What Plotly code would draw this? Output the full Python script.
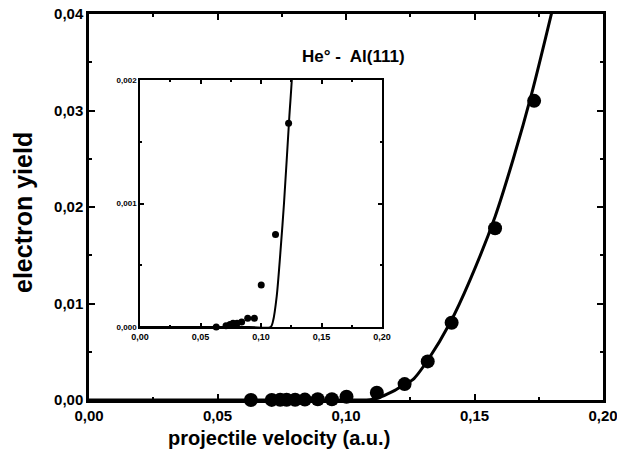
import plotly.graph_objects as go

# measured points (projectile velocity in a.u., electron yield)
data_v = [0.0630, 0.0711, 0.0744, 0.0769, 0.0802, 0.0840, 0.0890, 0.0945,
          0.1002, 0.1120, 0.1228, 0.1318, 0.1411, 0.1580, 0.1732]
data_y = [0.0, 0.00001, 0.00002, 0.00003, 0.00003, 0.00004, 0.00007, 0.00007,
          0.00034, 0.00075, 0.00165, 0.0040, 0.0080, 0.0178, 0.0310]

# fitted curve
curve_v = [0.0, 0.090, 0.108, 0.110, 0.113, 0.116, 0.119, 0.1234, 0.126,
           0.132, 0.1405, 0.1482, 0.158, 0.1651, 0.1723, 0.180]
curve_y = [0.0, 0.0, 0.0, 0.00005, 0.00025, 0.0006, 0.0010, 0.0017, 0.0021,
           0.0042, 0.0080, 0.0124, 0.0190, 0.0250, 0.0318, 0.0401]

main_xticks = [0.0, 0.05, 0.10, 0.15, 0.20]
main_yticks = [0.0, 0.01, 0.02, 0.03, 0.04]
inset_yticks = [0.0, 0.001, 0.002]

FONT = "Liberation Sans"
W, H = 617, 464

fig = go.Figure()
fig.add_trace(go.Scatter(x=curve_v, y=curve_y, mode="lines",
                         line=dict(color="black", width=3, shape="spline", smoothing=0.8),
                         xaxis="x", yaxis="y", showlegend=False))
fig.add_trace(go.Scatter(x=data_v, y=data_y, mode="markers",
                         marker=dict(color="black", size=14),
                         cliponaxis=False, xaxis="x", yaxis="y", showlegend=False))
fig.add_trace(go.Scatter(x=curve_v, y=curve_y, mode="lines",
                         line=dict(color="black", width=2, shape="spline", smoothing=0.8),
                         xaxis="x2", yaxis="y2", showlegend=False))
fig.add_trace(go.Scatter(x=data_v, y=data_y, mode="markers",
                         marker=dict(color="black", size=7),
                         cliponaxis=False, xaxis="x2", yaxis="y2", showlegend=False))

def px_x(p):
    return p / W

def px_y(p):
    return 1 - p / H

axis_common = dict(showline=True, mirror="allticks", linecolor="black", showgrid=False,
                   zeroline=False, ticks="inside", tickcolor="black", automargin=False,
                   ticklabeloverflow="allow")

fig.update_layout(
    width=W, height=H, margin=dict(l=0, r=0, t=0, b=0),
    paper_bgcolor="white", plot_bgcolor="white",
    separators=", ",
    font=dict(family=FONT, color="black"),
    xaxis=dict(axis_common, domain=[px_x(89), px_x(603)], range=[0, 0.2],
               tickvals=main_xticks, tickformat=".2f", linewidth=2.5, ticklen=6, tickwidth=2,
               tickfont=dict(size=15, family=FONT, weight="bold"),
               minor=dict(dtick=0.025, ticks="inside", ticklen=3, tickwidth=2, tickcolor="black"),
               anchor="y"),
    yaxis=dict(axis_common, domain=[px_y(400), px_y(14)], range=[0, 0.04],
               tickvals=main_yticks, tickformat=".2f", linewidth=2.5, ticklen=6, tickwidth=2,
               tickfont=dict(size=15, family=FONT, weight="bold"),
               minor=dict(dtick=0.005, ticks="inside", ticklen=3, tickwidth=2, tickcolor="black"),
               anchor="x"),
    xaxis2=dict(axis_common, domain=[px_x(140), px_x(382)], range=[0, 0.2],
                tickvals=main_xticks, tickformat=".2f", linewidth=1.5, ticklen=4, tickwidth=1.5,
                tickfont=dict(size=9, family=FONT, weight="bold"),
                minor=dict(dtick=0.025, ticks="inside", ticklen=2, tickwidth=1.5, tickcolor="black"),
                anchor="y2"),
    yaxis2=dict(axis_common, domain=[px_y(327), px_y(80)], range=[0, 0.002],
                tickvals=inset_yticks, tickformat=".3f", linewidth=1.5, ticklen=4, tickwidth=1.5,
                tickfont=dict(size=8, family=FONT, weight="bold"),
                minor=dict(dtick=0.0005, ticks="inside", ticklen=2, tickwidth=1.5, tickcolor="black"),
                anchor="x2"),
    annotations=[
        dict(text="projectile velocity (a.u.)", x=px_x(279), y=px_y(438), xref="paper", yref="paper",
             showarrow=False, font=dict(size=20, family=FONT, weight="bold"),
             xanchor="center", yanchor="middle"),
        dict(text="electron yield", x=px_x(23), y=px_y(213), xref="paper", yref="paper",
             showarrow=False, font=dict(size=25, family=FONT, weight="bold"), textangle=-90,
             xanchor="center", yanchor="middle"),
        dict(text="He° -  Al(111)", x=px_x(300), y=px_y(57), xref="paper", yref="paper",
             showarrow=False, font=dict(size=17, family=FONT, weight="bold"),
             xanchor="left", yanchor="middle"),
    ],
)

fig.write_html("out.html", config={"displayModeBar": False},
               post_script="document.body.style.margin='0';")
